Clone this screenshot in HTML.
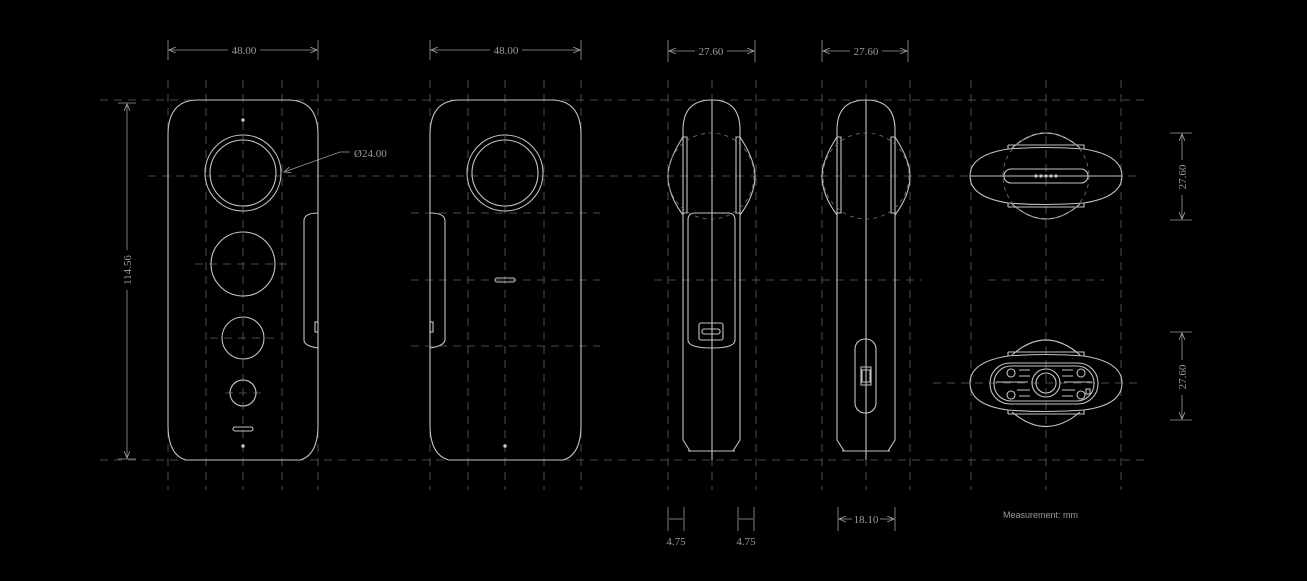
<!DOCTYPE html>
<html><head><meta charset="utf-8"><style>
html,body{margin:0;padding:0;background:#000;}
svg{display:block;}
text{font-family:"Liberation Serif",serif;fill:#9a9a9a;font-size:11px;}
</style></head><body>
<svg width="1307" height="581" viewBox="0 0 1307 581" xmlns="http://www.w3.org/2000/svg">
<defs>
<marker id="ar" markerWidth="8" markerHeight="6" refX="7" refY="3" orient="auto-start-reverse" markerUnits="userSpaceOnUse"><path d="M0,0 L7,3 L0,6" fill="none" stroke="#aaa" stroke-width="0.8"/></marker>
</defs>
<rect width="1307" height="581" fill="#000"/>
<g stroke="#626262" stroke-width="0.8" stroke-dasharray="8,6" fill="none">
<line x1="100" y1="100" x2="1150" y2="100"/>
<line x1="148" y1="176" x2="1140" y2="176"/>
<line x1="100" y1="460" x2="1150" y2="460"/>
<line x1="411" y1="213" x2="600" y2="213"/>
<line x1="411" y1="280" x2="600" y2="280"/>
<line x1="411" y1="346" x2="600" y2="346"/>
<line x1="654" y1="280" x2="922" y2="280"/>
<line x1="988" y1="280" x2="1104" y2="280"/>
<line x1="933" y1="383" x2="1143" y2="383"/>
<line x1="195" y1="264" x2="292" y2="264"/>
<line x1="210" y1="338" x2="276" y2="338"/>
<line x1="225" y1="393" x2="262" y2="393"/>
<line x1="168" y1="80" x2="168" y2="490"/><line x1="206" y1="80" x2="206" y2="490"/><line x1="243" y1="80" x2="243" y2="490"/><line x1="282" y1="80" x2="282" y2="490"/><line x1="318" y1="80" x2="318" y2="490"/>
<line x1="430" y1="80" x2="430" y2="490"/><line x1="468" y1="80" x2="468" y2="490"/><line x1="505" y1="80" x2="505" y2="490"/><line x1="544" y1="80" x2="544" y2="490"/><line x1="581" y1="80" x2="581" y2="490"/>
<line x1="668" y1="80" x2="668" y2="490"/><line x1="712" y1="80" x2="712" y2="490"/><line x1="756" y1="80" x2="756" y2="490"/>
<line x1="822" y1="80" x2="822" y2="490"/><line x1="866" y1="80" x2="866" y2="490"/><line x1="910" y1="80" x2="910" y2="490"/>
<line x1="971" y1="80" x2="971" y2="490"/><line x1="1046" y1="80" x2="1046" y2="490"/><line x1="1121" y1="80" x2="1121" y2="490"/>
</g>
<g stroke="#9a9a9a" stroke-width="0.8" fill="none">
<line x1="168" y1="40" x2="168" y2="60"/><line x1="318" y1="40" x2="318" y2="60"/>
<line x1="169" y1="50" x2="228" y2="50" marker-start="url(#ar)"/><line x1="260" y1="50" x2="317" y2="50" marker-end="url(#ar)"/>
<line x1="430" y1="40" x2="430" y2="60"/><line x1="581" y1="40" x2="581" y2="60"/>
<line x1="431" y1="50" x2="490" y2="50" marker-start="url(#ar)"/><line x1="522" y1="50" x2="580" y2="50" marker-end="url(#ar)"/>
<line x1="668" y1="40" x2="668" y2="62"/><line x1="755" y1="40" x2="755" y2="62"/>
<line x1="669" y1="51" x2="695" y2="51" marker-start="url(#ar)"/><line x1="727" y1="51" x2="754" y2="51" marker-end="url(#ar)"/>
<line x1="822" y1="40" x2="822" y2="62"/><line x1="908" y1="40" x2="908" y2="62"/>
<line x1="823" y1="51" x2="850" y2="51" marker-start="url(#ar)"/><line x1="882" y1="51" x2="907" y2="51" marker-end="url(#ar)"/>
<line x1="118" y1="103" x2="136" y2="103"/><line x1="118" y1="459" x2="136" y2="459"/>
<line x1="127" y1="104" x2="127" y2="250" marker-start="url(#ar)"/><line x1="127" y1="290" x2="127" y2="458" marker-end="url(#ar)"/>
<line x1="668" y1="507" x2="668" y2="531"/><line x1="684" y1="507" x2="684" y2="531"/>
<line x1="669" y1="519" x2="683" y2="519"/>
<line x1="738" y1="507" x2="738" y2="531"/><line x1="754" y1="507" x2="754" y2="531"/>
<line x1="739" y1="519" x2="753" y2="519"/>
<line x1="838" y1="507" x2="838" y2="531"/><line x1="895" y1="507" x2="895" y2="531"/>
<line x1="839" y1="519" x2="852" y2="519" marker-start="url(#ar)"/><line x1="880" y1="519" x2="894" y2="519" marker-end="url(#ar)"/>
<line x1="1170" y1="133" x2="1192" y2="133"/><line x1="1170" y1="220" x2="1192" y2="220"/>
<line x1="1182" y1="134" x2="1182" y2="160" marker-start="url(#ar)"/><line x1="1182" y1="195" x2="1182" y2="219" marker-end="url(#ar)"/>
<line x1="1170" y1="332" x2="1192" y2="332"/><line x1="1170" y1="420" x2="1192" y2="420"/>
<line x1="1182" y1="333" x2="1182" y2="360" marker-start="url(#ar)"/><line x1="1182" y1="395" x2="1182" y2="419" marker-end="url(#ar)"/>
<polyline points="284,172 340,152 350,152" marker-start="url(#ar)"/>
</g>
<g>
<text x="244" y="54" text-anchor="middle">48.00</text>
<text x="506" y="54" text-anchor="middle">48.00</text>
<text x="711" y="55" text-anchor="middle">27.60</text>
<text x="866" y="55" text-anchor="middle">27.60</text>
<text x="131" y="270" text-anchor="middle" transform="rotate(-90 131 270)">114.56</text>
<text x="354" y="157">Ø24.00</text>
<text x="676" y="545" text-anchor="middle">4.75</text>
<text x="746" y="545" text-anchor="middle">4.75</text>
<text x="866" y="523" text-anchor="middle">18.10</text>
<text x="1186" y="177" text-anchor="middle" transform="rotate(-90 1186 177)">27.60</text>
<text x="1186" y="377" text-anchor="middle" transform="rotate(-90 1186 377)">27.60</text>
<text x="1003" y="518" style="font-family:'Liberation Sans',sans-serif;font-size:9px">Measurement:  mm</text>
</g>
<g stroke="#c4c4c4" stroke-width="1.1" fill="none">
<path d="M198,100 H288 Q318,100 318,135 V425 Q318,455 300,460 H186 Q168,455 168,425 V135 Q168,100 198,100 Z"/>
<path d="M318,213 Q305,213 304,220 V340 Q304,346 318,348"/>
<rect x="315" y="322" width="3" height="10"/>
<circle cx="243" cy="173" r="38"/><circle cx="243" cy="173" r="33"/>
<circle cx="243" cy="264" r="32"/>
<circle cx="243" cy="338" r="21"/>
<circle cx="243" cy="393" r="13"/>
<rect x="233" y="427" width="20" height="4" rx="2"/>
<circle cx="243" cy="120" r="1.2" fill="#c8c8c8"/><circle cx="243" cy="446" r="1.2" fill="#c8c8c8"/>
<path d="M460,100 H551 Q581,100 581,135 V425 Q581,455 563,460 H449 Q430,455 430,425 V135 Q430,100 460,100 Z"/>
<path d="M430,213 Q444,213 445,220 V340 Q444,346 430,348"/>
<rect x="430" y="322" width="3" height="10"/>
<circle cx="505" cy="173" r="38"/><circle cx="505" cy="173" r="33"/>
<rect x="495" y="278" width="20" height="4" rx="2"/>
<circle cx="505" cy="446" r="1.2" fill="#c8c8c8"/>
<path d="M683,440 V130 Q683,100 712,100 Q740,100 740,130 V440 L733,451 H690 L683,440"/>
<line x1="688" y1="451" x2="735" y2="451"/>
<line x1="712" y1="100" x2="712" y2="460"/>
<path d="M683,137 Q668,160 668,176 Q668,195 683,215"/>
<path d="M740,137 Q755,160 755,176 Q755,195 740,215"/>
<path d="M683,137 H687 V213 H683"/><path d="M740,137 H736 V213 H740"/>
<path d="M688,220 Q688,213 695,213 H728 Q735,213 735,220 V340 Q735,348 712,348 Q688,348 688,340 Z"/>
<rect x="699" y="323" width="24" height="17" rx="2"/><rect x="702" y="329" width="18" height="5" rx="2"/>
<path d="M837,440 V130 Q837,100 866,100 Q895,100 895,130 V440 L888,451 H844 L837,440"/>
<line x1="842" y1="451" x2="890" y2="451"/>
<line x1="866" y1="100" x2="866" y2="460"/>
<path d="M837,137 Q822,160 822,176 Q822,195 837,215"/>
<path d="M895,137 Q910,160 910,176 Q910,195 895,215"/>
<path d="M837,137 H841 V213 H837"/><path d="M895,137 H891 V213 H895"/>
<rect x="855" y="339" width="21" height="74" rx="10"/>
<path d="M861,367 H871 V385 H861 Z M862,370 H870 V382 H862 Z"/>
<path d="M1012,148 Q1046,118 1080,148"/>
<path d="M1012,204 Q1046,234 1080,204"/>
<path d="M1008,149 Q1046,146 1084,149 Q1122,155 1122,176 Q1122,197 1084,203 Q1046,206 1008,203 Q970,197 970,176 Q970,155 1008,149 Z"/>
<path d="M1008,145 H1084 V149 M1008,145 V149 M1008,207 H1084 V203 M1008,207 V203"/>
<rect x="1004" y="169" width="84" height="14" rx="7"/>
<line x1="970" y1="176" x2="1122" y2="176"/>
<path d="M1012,355 Q1046,325 1080,355"/>
<path d="M1012,412 Q1046,441 1080,412"/>
<path d="M1008,356 Q1046,353 1084,356 Q1122,362 1122,383 Q1122,405 1084,410 Q1046,413 1008,410 Q970,405 970,383 Q970,362 1008,356 Z"/>
<path d="M1008,352 H1084 V356 M1008,352 V356 M1008,414 H1084 V410 M1008,414 V410"/>
<rect x="990" y="363" width="108" height="41" rx="20"/>
<rect x="994" y="366" width="100" height="35" rx="17"/>
<circle cx="1046" cy="383" r="14"/><circle cx="1046" cy="383" r="10"/>
<circle cx="1011" cy="373" r="4"/><circle cx="1011" cy="395" r="4"/><circle cx="1081" cy="373" r="4"/><circle cx="1081" cy="395" r="4"/>
<path d="M1019,370 H1030 M1019,376 H1030 M1017,390 H1030 M1019,396 H1030 M1062,370 H1073 M1062,376 H1073 M1062,390 H1075 M1062,396 H1073 M996,382 H1028 M1064,382 H1092"/>
<rect x="1086" y="389" width="4" height="5"/>
</g>
<g fill="#c8c8c8">
<circle cx="1036" cy="176" r="1.6"/><circle cx="1041" cy="176" r="1.6"/><circle cx="1046" cy="176" r="1.6"/><circle cx="1051" cy="176" r="1.6"/><circle cx="1056" cy="176" r="1.6"/>
</g>
<circle cx="711" cy="176" r="43" fill="none" stroke="#777" stroke-width="0.8" stroke-dasharray="4,4"/>
<circle cx="866" cy="176" r="43" fill="none" stroke="#777" stroke-width="0.8" stroke-dasharray="4,4"/>
<circle cx="1046" cy="176" r="43" fill="none" stroke="#777" stroke-width="0.8" stroke-dasharray="4,4"/>
</svg>
</body></html>
